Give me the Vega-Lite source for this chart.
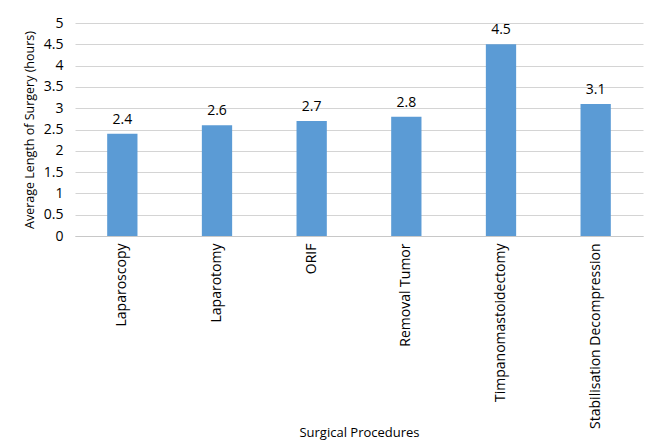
{
  "$schema": "https://vega.github.io/schema/vega-lite/v6.json",
  "width": 568,
  "height": 213,
  "autosize": {"type": "none"},
  "padding": {"left": 75, "top": 23, "right": 16, "bottom": 212},
  "background": "#ffffff",
  "config": {
    "font": "Open Sans",
    "view": {"stroke": null}
  },
  "data": {
    "values": [
      {"procedure": "Laparoscopy", "hours": 2.4},
      {"procedure": "Laparotomy", "hours": 2.6},
      {"procedure": "ORIF", "hours": 2.7},
      {"procedure": "Removal Tumor", "hours": 2.8},
      {"procedure": "Timpanomastoidectomy", "hours": 4.5},
      {"procedure": "Stabilisation Decompression", "hours": 3.1}
    ]
  },
  "encoding": {
    "x": {
      "field": "procedure",
      "type": "nominal",
      "sort": null,
      "scale": {"paddingInner": 0.68, "paddingOuter": 0.34},
      "axis": {
        "title": "Surgical Procedures",
        "titleFontSize": 13,
        "titleFontWeight": "normal",
        "titleColor": "#000000",
        "titleBaseline": "middle",
        "titleY": 196,
        "labelAngle": -90,
        "labelFontSize": 14,
        "labelColor": "#000000",
        "labelPadding": 7,
        "labelLimit": 300,
        "ticks": false,
        "domainColor": "#c8c8c8",
        "domainWidth": 1
      }
    },
    "y": {
      "field": "hours",
      "type": "quantitative",
      "scale": {"domain": [0, 5]},
      "axis": {
        "title": "Average Length of Surgery (hours)",
        "titleFontSize": 12.5,
        "titleFontWeight": "normal",
        "titleColor": "#000000",
        "titlePadding": 7,
        "values": [0, 0.5, 1, 1.5, 2, 2.5, 3, 3.5, 4, 4.5, 5],
        "format": "~g",
        "labelFontSize": 14,
        "labelColor": "#000000",
        "labelPadding": 12,
        "ticks": false,
        "domain": false,
        "grid": true,
        "gridColor": "#d4d4d4",
        "gridWidth": 1
      }
    }
  },
  "layer": [
    {"mark": {"type": "bar", "color": "#5b9bd5"}},
    {
      "mark": {"type": "text", "baseline": "bottom", "dy": -7, "fontSize": 14, "color": "#000000"},
      "encoding": {"text": {"field": "hours", "type": "quantitative", "format": ".1f"}}
    }
  ]
}
